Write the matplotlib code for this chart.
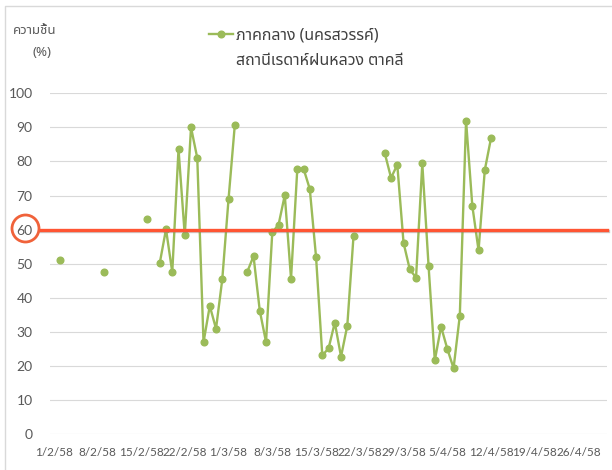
import matplotlib
matplotlib.use("Agg")
import matplotlib.pyplot as plt
import matplotlib.patheffects as pe
from matplotlib.patches import Rectangle, Ellipse
import numpy as np
import pandas as pd

# daily humidity (%) from 2/2/58 to 11/4/58, nan = no data
start_date = "2015-02-02"
humidity = [
    51.0, np.nan, np.nan, np.nan, np.nan, np.nan, np.nan,
    47.5, np.nan, np.nan, np.nan, np.nan, np.nan, np.nan,
    63.2, np.nan,
    50.2, 60.1, 47.5, 83.6, 58.3, 90.0, 81.0, 26.9, 37.6, 30.9, 45.4, 68.9, 90.6,
    np.nan,
    47.6, 52.2, 36.2, 27.0, 59.2, 61.4, 70.1, 45.6, 77.7, 77.9, 71.9, 52.0,
    23.1, 25.1, 32.7, 22.7, 31.8, 58.2,
    np.nan, np.nan, np.nan, np.nan,
    82.4, 75.2, 79.0, 56.1, 48.3, 45.9, 79.4, 49.4, 21.6, 31.5, 25.0, 19.3,
    34.7, 92.0, 67.0, 53.9, 77.5, 86.9,
]
tick_dates = ["2015-02-01", "2015-02-08", "2015-02-15", "2015-02-22", "2015-03-01",
              "2015-03-08", "2015-03-15", "2015-03-22", "2015-03-29", "2015-04-05",
              "2015-04-12", "2015-04-19", "2015-04-26"]
tick_labels = ["1/2/58", "8/2/58", "15/2/58", "22/2/58", "1/3/58", "8/3/58", "15/3/58",
               "22/3/58", "29/3/58", "5/4/58", "12/4/58", "19/4/58", "26/4/58"]
threshold = 60
series_name = "ภาคกลาง (นครสวรรค์)"
station_name = "สถานีเรดาห์ฝนหลวง ตาคลี"

thai = ["Noto Sans Thai", "Lato", "DejaVu Sans"]
plt.rcParams["font.family"] = ["Lato", "DejaVu Sans"]

dates = pd.date_range(start_date, periods=len(humidity), freq="D")
ticks = pd.to_datetime(tick_dates)

W, H = 612, 470
fig = plt.figure(figsize=(W / 100, H / 100), dpi=100)
ax = fig.add_axes([50 / W, (H - 434) / H, 556.7 / W, 340.7 / H])

# chart border (only the top and left edges are inside the picture)
fig.lines.append(plt.Line2D([4.5 / W, 4.5 / W, 1.0], [0.0, (H - 6) / H, (H - 6) / H],
                            transform=fig.transFigure, color="#d9d9d9", lw=1))

green = "#9bbb59"
ax.plot(dates, humidity, color=green, lw=1.7, marker="o", ms=4.8, mec=green, mfc=green)

x0 = pd.Timestamp("2015-02-01") - pd.Timedelta(days=0.56)
x1 = pd.Timestamp("2015-02-01") + pd.Timedelta(days=88.5)
ax.set_xlim(x0, x1)
ax.set_ylim(0, 100)
ax.set_yticks(range(0, 101, 10))
ax.set_xticks(ticks)
ax.set_xticklabels(tick_labels)
ax.tick_params(axis="both", length=0, labelcolor="#595959")
ax.tick_params(axis="y", pad=12.5, labelsize=10)
ax.tick_params(axis="x", pad=9, labelsize=8.5)
ax.grid(axis="y", color="#d9d9d9", lw=0.8)
ax.set_axisbelow(True)
for s in ax.spines.values():
    s.set_visible(False)

# threshold line with circled label
ax.axhline(threshold, xmin=-0.018, xmax=1.0, color="#ff5533", lw=2.4, clip_on=False, zorder=5,
           path_effects=[pe.SimpleLineShadow(offset=(0.6, -1.2), shadow_color="gray", alpha=0.4),
                         pe.Normal()])
fig.patches.append(Ellipse((25.5 / W, (H - 228.5) / H), 27 / W, 27 / H,
                           transform=fig.transFigure, fill=False, ec="#f0623a", lw=2.0))

# y axis title
fig.text(35 / W, (H - 30) / H, "ความชื้น", family=thai, fontsize=9.5, color="#595959",
         ha="center", va="center")
fig.text(42 / W, (H - 52) / H, "(%)", family=thai, fontsize=9.5, color="#595959",
         ha="center", va="center")

# legend
fig.lines.append(plt.Line2D([209 / W, 233 / W], [(H - 34) / H] * 2, transform=fig.transFigure,
                            color=green, lw=1.7))
fig.lines.append(plt.Line2D([221 / W], [(H - 34) / H], transform=fig.transFigure,
                            color=green, marker="o", ms=4.8, mfc=green, mec=green))
fig.text(236 / W, (H - 35) / H, series_name, family=thai, fontsize=11.5, color="#404040",
         ha="left", va="center")
fig.text(236 / W, (H - 61) / H, station_name, family=thai, fontsize=11.5, color="#404040",
         ha="left", va="center")

fig.savefig("out.png", dpi=100)
